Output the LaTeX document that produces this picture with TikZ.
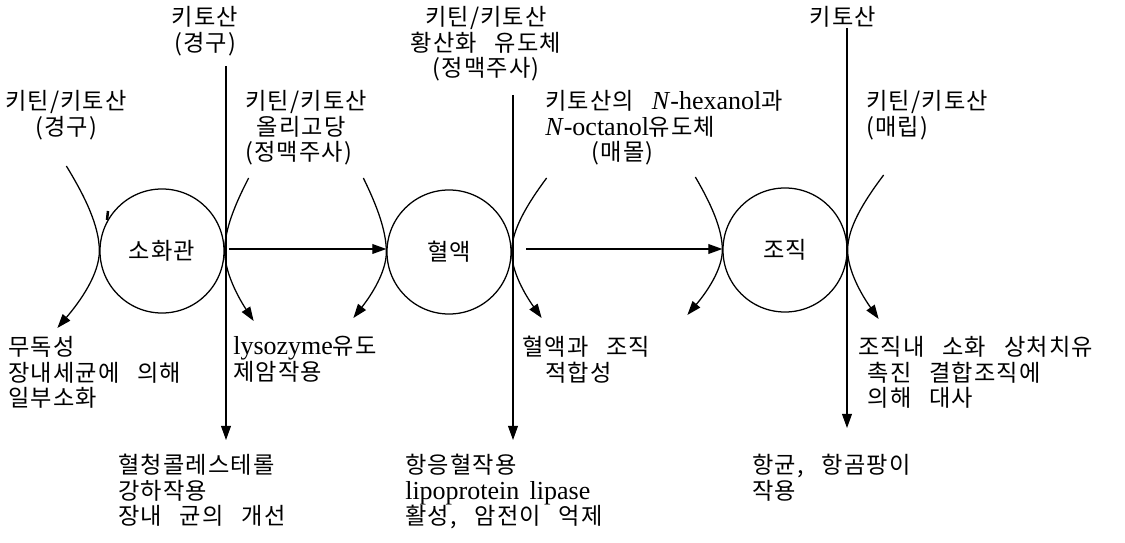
\documentclass[tikz,border=0pt]{standalone}
\usepackage{fontspec}
\setmainfont[WordSpace=2.8,LetterSpace=5]{Noto Sans CJK KR}
\newfontfamily\latinfont[Scale=1.12,WordSpace=1.6]{Liberation Serif}
\usetikzlibrary{arrows.meta,positioning,calc}
\newcommand{\lat}[1]{{\latinfont #1}}
\tikzset{
  figlabel/.style={font=\fontsize{16.5pt}{18.2pt}\selectfont, inner sep=0pt, text=black},
  organ/.style={draw, circle, line width=0.9pt, minimum size=3.1cm, inner sep=0pt},
  flowarrow/.style={-{Triangle[length=10pt,width=7pt]}, line width=0.8pt},
  sidearc/.style={-{Triangle[length=10pt,width=7pt]}, line width=0.9pt}
}

\begin{document}
\begin{tikzpicture}[x=0.025cm, y=-0.025cm, every node/.style={figlabel}]
\useasboundingbox (0,0) rectangle (1125,543);
% organs
\node[organ] (gut) at (162,251) {소화관};
\node[organ] (blood) at (449,252) {혈액};
\node[organ] (tissue) at (785,250) {조직};

% top labels
\node[anchor=north, align=center] (oral) at (205,6) {키토산\\(경구)};
\node[anchor=north, align=center] (sulfate) at (486,6) {키틴/키토산\\황산화 유도체\\(정맥주사)};
\node[anchor=north] (chitotop) at (843,6) {키토산};
\node[anchor=north, align=center] (oralleft) at (66,90) {키틴/키토산\\(경구)};
\node[anchor=north west, align=left] (oligo) at (245,90) {키틴/키토산\\\hspace{0.5em}올리고당\\(정맥주사)};
\node[anchor=north west, align=left] (alkyl) at (545,90) {키토산의 \lat{\textit{N}-hexanol}과\\\lat{\textit{N}-octanol}유도체\\\hspace{2em}(매몰)};
\node[anchor=north west, align=left] (implant) at (866,90) {키틴/키토산\\(매립)};

% effects
\node[anchor=north west, align=left] (nontox) at (8,336) {무독성\\장내세균에 의해\\일부소화};
\node[anchor=north west, align=left] (lyso) at (233,336) {\lat{lysozyme}유도\\제암작용};
\node[anchor=north west, align=left] (compat) at (522,336) {혈액과 조직\\\hspace{1em}적합성};
\node[anchor=north west, align=left] (heal) at (858,336) {조직내 소화 상처치유\\\hspace{0.4em}촉진 결합조직에\\\hspace{0.4em}의해 대사};
\node[anchor=north west, align=left] (chol) at (118,454) {혈청콜레스테롤\\강하작용\\장내 균의 개선};
\node[anchor=north west, align=left] (coag) at (405,454) {항응혈작용\\\lat{lipoprotein lipase}\\활성, 암전이 억제};
\node[anchor=north west, align=left] (fungi) at (752,454) {항균, 항곰팡이\\작용};

% routes
\coordinate (v1top) at (226,66);
\coordinate (v1end) at (226,440);
\coordinate (v2top) at (513,95);
\coordinate (v2end) at (513,440);
\coordinate (v3top) at (847,28);
\coordinate (v3end) at (847,428);
\draw[flowarrow] (v1top) -- (v1end);
\draw[flowarrow] (v2top) -- (v2end);
\draw[flowarrow] (v3top) -- (v3end);

\coordinate (a1) at (229,249);
\coordinate (a2) at (526,249);
\draw[flowarrow] (a1) -- (a1 -| blood.west);
\draw[flowarrow] (a2) -- (a2 -| tissue.west);

% arcs kissing each organ
\foreach \organ/\side/\tx/\ty/\bx/\by in {gut/west/-33/-85/-42/77, gut/east/24/-73/29/70,
    blood/west/-23/-74/-33/66, blood/east/35/-74/30/66,
    tissue/west/-27/-73/-35/65, tissue/east/36/-75/31/69} {
  \draw[sidearc] ($(\organ.\side)+(\tx,\ty)$)
     .. controls +({-0.55*\tx},{-0.35*\ty}) and +(0,{0.3*\ty}) .. (\organ.\side)
     .. controls +(0,{0.3*\by}) and +({-0.55*\bx},{-0.35*\by}) .. ($(\organ.\side)+(\bx,\by)$);
}
\draw[line width=1.8pt] (108,211) -- (107,220);
\end{tikzpicture}
\end{document}
